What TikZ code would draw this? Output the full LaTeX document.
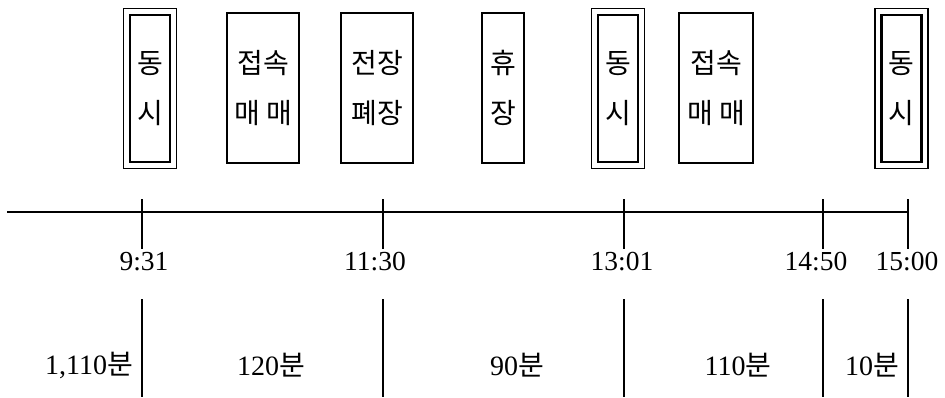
\documentclass[tikz,border=0pt]{standalone}
\usepackage{fontspec}
\setmainfont{Liberation Serif}
\newfontfamily\kr{Noto Sans CJK KR}
\usetikzlibrary{calc}
\tikzset{
  plainbox/.style={draw, line width=1.6pt, minimum height=150pt, inner sep=0pt,
    align=center, font=\kr\fontsize{28}{50}\selectfont},
  thickbox/.style={draw, line width=2.6pt, minimum width=40pt, minimum height=147pt, inner sep=0pt,
    align=center, font=\kr\fontsize{28}{50}\selectfont},
  outerline/.style={draw, line width=1.5pt},
  axisline/.style={line width=1.6pt},
  tickline/.style={line width=1.5pt},
  timelbl/.style={font=\fontsize{27.5}{27.5}\selectfont, inner sep=0pt},
  durlbl/.style={font=\fontsize{28}{28}\selectfont, inner sep=0pt}
}
\begin{document}
\begin{tikzpicture}[x=1pt,y=-1pt]
\useasboundingbox (0,0) rectangle (945,397);
% boxes
\node[thickbox] (d1) at (150,88.5) {동\\시};
\node[plainbox, minimum width=72pt] (j1) at (263,88) {접속\\매 매};
\node[plainbox, minimum width=72pt] (p1) at (377,88) {전장\\폐장};
\node[plainbox, minimum width=42pt] (h1) at (503,88) {휴\\장};
\node[thickbox] (d2) at (618,88.5) {동\\시};
\node[plainbox, minimum width=74pt] (j2) at (716,88) {접속\\매 매};
\node[thickbox] (d3) at (901.5,88.5) {동\\시};
\foreach \n in {d1,d2,d3}{
  \draw[outerline] ($(\n.north west)+(-5,-5)$) rectangle ($(\n.south east)+(5,5)$);
}
% axis
\coordinate (a0) at (7,212);
\coordinate (a5) at (908,212);
\draw[axisline] (a0) -- (a5);
\foreach \i/\x in {1/142,2/383,3/624,4/823,5/908}{
  \coordinate (t\i top) at (\x,199);
  \coordinate (t\i bot) at (\x,249);
  \coordinate (l\i top) at (\x,299);
  \coordinate (l\i bot) at (\x,397);
  \draw[tickline] (t\i top) -- (t\i bot);
  \draw[tickline] (l\i top) -- (l\i bot);
}
% time labels
\node[timelbl] (m1) at (144,262) {9:31};
\node[timelbl] (m2) at (375,262) {11:30};
\node[timelbl] (m3) at (622,262) {13:01};
\node[timelbl] (m4) at (816,262) {14:50};
\node[timelbl] (m5) at (907,262) {15:00};
% durations
\node[durlbl] (u1) at (89,365) {1,110{\kr 분}};
\node[durlbl] (u2) at (271,365) {120{\kr 분}};
\node[durlbl] (u3) at (517,365) {90{\kr 분}};
\node[durlbl] (u4) at (738,365) {110{\kr 분}};
\node[durlbl] (u5) at (872,365) {10{\kr 분}};
\end{tikzpicture}
\end{document}
